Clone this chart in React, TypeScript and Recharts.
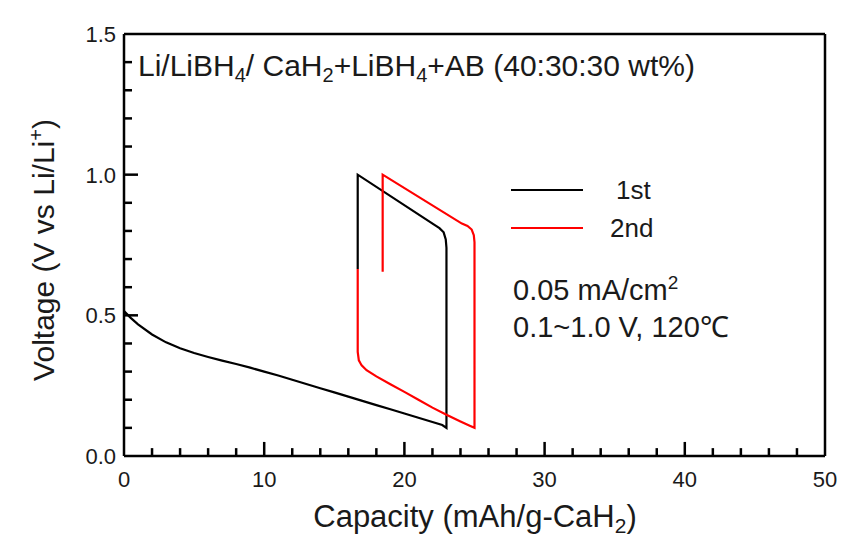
import { LineChart, Line, XAxis, YAxis, ReferenceLine } from 'recharts';

// tick positions (major ones carry labels)
const X_MAJOR = [0, 10, 20, 30, 40, 50];
const X_MINOR = [2, 4, 6, 8, 12, 14, 16, 18, 22, 24, 26, 28, 32, 34, 36, 38, 42, 44, 46, 48];
const Y_MAJOR = [0, 0.5, 1.0, 1.5];
const Y_MINOR = [0.1, 0.2, 0.3, 0.4, 0.6, 0.7, 0.8, 0.9, 1.1, 1.2, 1.3, 1.4];

// 1st cycle: discharge 0 -> 23 mAh/g, then charge back to ~16.7
const CAP_1ST = [
  0, 0.5, 1, 2, 3, 4, 5, 6, 7, 8, 9, 10, 11, 12, 13, 14, 15, 16, 17, 18, 19, 20, 21, 22, 22.7, 23,
  23, 22.95, 22.8, 22.5, 22.2, 16.67, 16.67,
];
const V_1ST = [
  0.515, 0.49, 0.468, 0.432, 0.404, 0.383, 0.366, 0.352, 0.339, 0.327, 0.314, 0.3, 0.286, 0.271, 0.256,
  0.241, 0.226, 0.211, 0.196, 0.181, 0.166, 0.151, 0.136, 0.121, 0.11, 0.1,
  0.74, 0.77, 0.795, 0.81, 0.82, 1.0, 0.665,
];

// 2nd cycle
const CAP_2ND = [
  16.67, 16.67, 16.75, 16.95, 17.3, 18, 19, 20, 21, 22, 23, 24, 24.7, 25,
  25, 24.95, 24.8, 24.5, 24.1, 18.45, 18.45,
];
const V_2ND = [
  0.665, 0.37, 0.34, 0.322, 0.305, 0.283, 0.255, 0.228, 0.2, 0.172, 0.147, 0.123, 0.107, 0.1,
  0.76, 0.785, 0.805, 0.818, 0.826, 1.0, 0.655,
];

const W = 864;
const H = 538;
const FONT = '"Liberation Sans", Arial, Helvetica, sans-serif';
const TXT = '#1a1a1a';

// inward tick lengths in data units (~14px major, ~8px minor)
const XT_MAJOR = 0.05;
const XT_MINOR = 0.028;
const YT_MAJOR = 1.0;
const YT_MINOR = 0.57;

function XTick(props: any) {
  const value = props.payload.value;
  return (
    <text x={Number(props.x)} y={Number(props.y) + 31} textAnchor="middle" fontSize={22} fontFamily={FONT} fill={TXT}>
      {value}
    </text>
  );
}

function YTick(props: any) {
  const value = props.payload.value;
  return (
    <text x={Number(props.x) - 8} y={Number(props.y) + 8} textAnchor="end" fontSize={22} fontFamily={FONT} fill={TXT}>
      {value.toFixed(1)}
    </text>
  );
}

export default function App() {
  const first = CAP_1ST.map((c, i) => ({ c, v: V_1ST[i] }));
  const second = CAP_2ND.map((c, i) => ({ c, v: V_2ND[i] }));

  const xMarks = [...X_MAJOR.slice(1, -1), ...X_MINOR].map((v) => ({
    key: `x${v}`,
    segment: [{ x: v, y: 0 }, { x: v, y: X_MAJOR.includes(v) ? XT_MAJOR : XT_MINOR }],
  }));
  const yMarks = [...Y_MAJOR.slice(1, -1), ...Y_MINOR].map((v) => ({
    key: `y${v}`,
    segment: [{ x: 0, y: v }, { x: Y_MAJOR.includes(v) ? YT_MAJOR : YT_MINOR, y: v }],
  }));

  return (
    <div style={{ position: 'absolute', left: 0, top: 0, width: W, height: H, background: '#fff' }}>
      <LineChart width={W} height={H} margin={{ top: 34, right: 39, bottom: 81, left: 123 }}>
        <XAxis
          xAxisId="x" type="number" dataKey="c" domain={[0, 50]} ticks={X_MAJOR} interval={0}
          height={1} tickSize={0} tickMargin={0} tickLine={false}
          axisLine={{ stroke: '#000', strokeWidth: 2.5 }} tick={<XTick />}
        />
        <YAxis
          yAxisId="y" type="number" domain={[0, 1.5]} ticks={Y_MAJOR} interval={0}
          width={1} tickSize={0} tickMargin={0} tickLine={false}
          axisLine={{ stroke: '#000', strokeWidth: 2.5 }} tick={<YTick />}
        />
        <ReferenceLine xAxisId="x" yAxisId="y" y={1.5} stroke="#000" strokeWidth={2.5} />
        <ReferenceLine xAxisId="x" yAxisId="y" x={50} stroke="#000" strokeWidth={2.5} />
        {[...xMarks, ...yMarks].map((m) => (
          <ReferenceLine
            key={m.key} xAxisId="x" yAxisId="y" segment={m.segment} ifOverflow="extendDomain"
            stroke="#000" strokeWidth={2.5}
          />
        ))}
        <Line
          xAxisId="x" yAxisId="y" data={first} dataKey="v" type="linear"
          stroke="#000" strokeWidth={2.2} dot={false} isAnimationActive={false}
        />
        <Line
          xAxisId="x" yAxisId="y" data={second} dataKey="v" type="linear"
          stroke="#ff0000" strokeWidth={2.2} dot={false} isAnimationActive={false}
        />
      </LineChart>

      {/* titles, legend and notes */}
      <svg
        width={W} height={H}
        style={{ position: 'absolute', left: 0, top: 0, pointerEvents: 'none' }}
        fontFamily={FONT} fill={TXT}
      >
        <text x={138} y={76} fontSize={30}>
          Li/LiBH<tspan fontSize={20} dy={6}>4</tspan>
          <tspan dy={-6}>/ CaH</tspan><tspan fontSize={20} dy={6}>2</tspan>
          <tspan dy={-6}>+LiBH</tspan><tspan fontSize={20} dy={6}>4</tspan>
          <tspan dy={-6}>+AB (40:30:30 wt%)</tspan>
        </text>

        <line x1={511} y1={190} x2={583} y2={190} stroke="#000" strokeWidth={2.2} />
        <line x1={511} y1={228} x2={583} y2={228} stroke="#ff0000" strokeWidth={2.2} />
        <text x={616} y={199} fontSize={26}>1st</text>
        <text x={610} y={237} fontSize={26}>2nd</text>

        <text x={513} y={300} fontSize={29}>
          0.05 mA/cm<tspan fontSize={19} dy={-11}>2</tspan>
        </text>
        <text x={513} y={337} fontSize={29}>0.1~1.0 V, 120℃</text>

        <text x={475} y={527} fontSize={31} textAnchor="middle">
          Capacity (mAh/g-CaH<tspan fontSize={21} dy={6}>2</tspan><tspan dy={-6}>)</tspan>
        </text>
        <text x={54} y={250} fontSize={30} textAnchor="middle" transform="rotate(-90 54 250)">
          Voltage (V vs Li/Li<tspan fontSize={20} dy={-11}>+</tspan><tspan dy={11}>)</tspan>
        </text>
      </svg>
    </div>
  );
}
